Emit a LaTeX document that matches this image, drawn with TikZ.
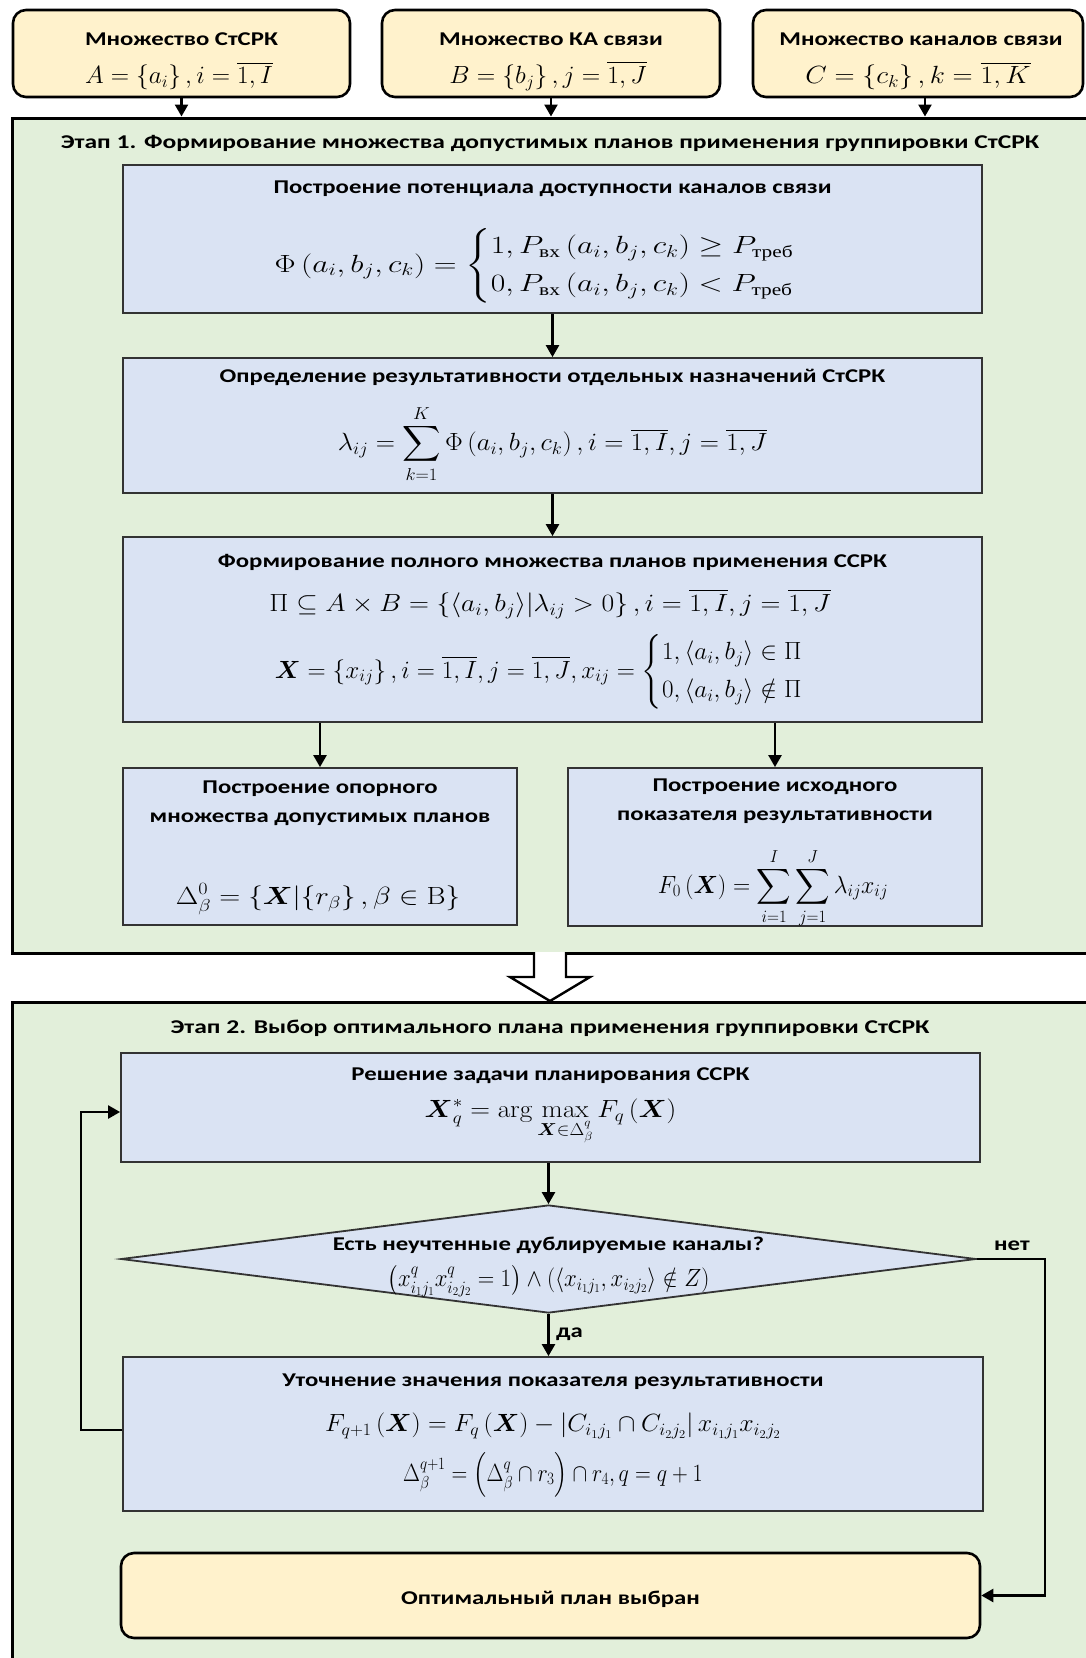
\documentclass[tikz,border=0pt]{standalone}
\usepackage{amsmath}
\usepackage{graphicx}
\usepackage[no-math]{fontspec}
\setmainfont{Carlito}
\newfontfamily\ttlfont{Carlito}[FakeStretch=1.27]
\newfontfamily\stgfont{Carlito}[FakeStretch=1.31]
\newfontfamily\serf{Liberation Serif}
\usetikzlibrary{arrows.meta,shapes.geometric}
\newcommand\cyrsub[1]{\text{\serf\mdseries\upshape #1}}
\newcommand\fm[2]{\scalebox{#1}[1]{$\displaystyle #2$}}
\definecolor{yel}{HTML}{FFF2CC}
\definecolor{grn}{HTML}{E2EFDA}
\definecolor{blu}{HTML}{DAE3F3}
\definecolor{bord}{HTML}{333333}
\begin{document}
\begin{tikzpicture}[x=1pt,y=-1pt,
  ybox/.style={draw=black,line width=2.6pt,fill=yel,rounded corners=13pt,inner sep=0pt},
  stage/.style={draw=black,line width=3pt,fill=grn,inner sep=0pt},
  bbox/.style={draw=bord,line width=1.8pt,fill=blu,inner sep=0pt},
  ttl/.style={font=\ttlfont\bfseries\fontsize{19.5}{23}\selectfont,inner sep=0pt,align=center},
  stl/.style={font=\stgfont\bfseries\fontsize{19.5}{23}\selectfont,inner sep=0pt,align=center},
  fml/.style={font=\fontsize{24}{28}\selectfont,inner sep=0pt},
  arr/.style={line width=2.4pt,-{Triangle[length=12pt,width=13pt]}}]
\fill[white] (0,0) rectangle (1085,1658);
\useasboundingbox (0,0) rectangle (1085,1658);

% top boxes
\node[ybox,minimum width=337pt,minimum height=87pt] (A) at (181.5,53.5) {};
\node[ybox,minimum width=338pt,minimum height=87pt] (B) at (551,53.5) {};
\node[ybox,minimum width=330pt,minimum height=87pt] (C) at (918,53.5) {};
\node[ttl] (At) at (181.5,39) {Множество СтСРК};
\node[fml] (Af) at (179,76) {\fm{1.02}{A=\left\{a_i\right\},i=\overline{1,I}}};
\node[ttl] (Bt) at (551,39) {Множество КА связи};
\node[fml] (Bf) at (548,76) {\fm{1.03}{B=\left\{b_j\right\},j=\overline{1,J}}};
\node[ttl] (Ct) at (921,39) {Множество каналов связи};
\node[fml] (Cf) at (918,76) {\fm{1.12}{C=\left\{c_k\right\},k=\overline{1,K}}};

% stage frames
\node[stage,minimum width=1078pt,minimum height=835pt] (S1) at (551,535.5) {};
\node[stage,minimum width=1078pt,minimum height=663pt] (S2) at (551,1333.5) {};

\draw[arr] (A.south) -- (A.south |- S1.north);
\draw[arr] (B.south) -- (B.south |- S1.north);
\draw[arr] ([xshift=7pt]C.south) -- ([xshift=7pt]C.south |- S1.north);

\node[stl] (S1t) at (550,143) {Этап 1. Формирование множества допустимых планов применения группировки СтСРК};

% stage 1 boxes
\node[bbox,minimum width=859pt,minimum height=148pt] (P1) at (552.5,239) {};
\node[ttl] (P1t) at (552.5,189) {Построение потенциала доступности каналов связи};
\node[fml] (P1f) at (550,266) {\fm{1.27}{\Phi\left(a_i,b_j,c_k\right)=\begin{cases}1,P_{\cyrsub{вх}}\left(a_i,b_j,c_k\right)\ge P_{\cyrsub{треб}}\\[4pt] 0,P_{\cyrsub{вх}}\left(a_i,b_j,c_k\right)<P_{\cyrsub{треб}}\end{cases}}};

\node[bbox,minimum width=859pt,minimum height=135pt] (P2) at (552.5,425.5) {};
\node[ttl] (P2t) at (552.5,377) {Определение результативности отдельных назначений СтСРК};
\node[fml] (P2f) at (552.5,444) {\fm{1.07}{\lambda_{ij}=\sum_{k=1}^{K}\Phi\left(a_i,b_j,c_k\right),i=\overline{1,I},j=\overline{1,J}}};

\node[bbox,minimum width=859pt,minimum height=185pt] (P3) at (552.5,629.5) {};
\node[ttl] (P3t) at (552.5,562) {Формирование полного множества планов применения ССРК};
\node[fml] (P3f) at (550,604) {\fm{1.11}{\Pi\subseteq A\times B=\left\{\left\langle a_i,b_j\right\rangle\middle|\lambda_{ij}>0\right\},i=\overline{1,I},j=\overline{1,J}}};
\node[fml] (P3g) at (551,672) {\fm{1.01}{\boldsymbol{X}=\left\{x_{ij}\right\},i=\overline{1,I},j=\overline{1,J},x_{ij}=\begin{cases}1,\left\langle a_i,b_j\right\rangle\in\Pi\\[4pt] 0,\left\langle a_i,b_j\right\rangle\notin\Pi\end{cases}}};

\node[bbox,minimum width=394pt,minimum height=157pt] (P4) at (320,846.5) {};
\node[ttl] (P4t) at (320,803) {Построение опорного\\[6pt]множества допустимых планов};
\node[fml] (P4f) at (318,899) {\fm{1.17}{\Delta_\beta^0=\left\{\boldsymbol{X}\middle|\left\{r_\beta\right\},\beta\in\mathrm{B}\right\}}};

\node[bbox,minimum width=414pt,minimum height=158pt] (P5) at (775,847) {};
\node[ttl] (P5t) at (775,801) {Построение исходного\\[6pt]показателя результативности};
\node[fml] (P5f) at (773,888) {\fm{0.96}{F_0\left(\boldsymbol{X}\right)=\sum_{i=1}^{I}\sum_{j=1}^{J}\lambda_{ij}x_{ij}}};

\draw[arr] (P1.south) -- (P2.north);
\draw[arr] (P2.south) -- (P3.north);
\draw[arr] (P3.south -| P4.north) -- (P4.north);
\draw[arr] (P3.south -| P5.north) -- (P5.north);

% hollow arrow between stages
\draw[line width=2.4pt,fill=white,line join=miter] (534,952) -- (534,977) -- (510,977) -- (550,1001) -- (590,977) -- (566,977) -- (566,952);

% stage 2
\node[stl] (S2t) at (550,1028) {Этап 2. Выбор оптимального плана применения группировки СтСРК};

\node[bbox,minimum width=859pt,minimum height=109pt] (Q1) at (550.5,1107.5) {};
\node[ttl] (Q1t) at (550.5,1076) {Решение задачи планирования ССРК};
\node[fml] (Q1f) at (550.5,1122) {\fm{1.10}{\boldsymbol{X}_q^{*}=\arg\max_{\boldsymbol{X}\in\Delta_\beta^q}F_q\left(\boldsymbol{X}\right)}};

\node[bbox,diamond,shape aspect=8,minimum width=855pt,minimum height=108pt] (D) at (548.5,1259) {};
\node[ttl] (Dt) at (548.5,1245) {Есть неучтенные дублируемые каналы?};
\node[fml] (Df) at (548.5,1281) {\fm{0.92}{\left(x^q_{i_1j_1}x^q_{i_2j_2}=1\right)\wedge\left(\left\langle x_{i_1j_1},x_{i_2j_2}\right\rangle\notin Z\right)}};

\node[bbox,minimum width=860pt,minimum height=154pt] (Q2) at (553,1434) {};
\node[ttl] (Q2t) at (553,1382) {Уточнение значения показателя результативности};
\node[fml] (Q2f) at (553,1426) {\fm{1.04}{F_{q+1}\left(\boldsymbol{X}\right)=F_q\left(\boldsymbol{X}\right)-\left|C_{i_1j_1}\cap C_{i_2j_2}\right|x_{i_1j_1}x_{i_2j_2}}};
\node[fml] (Q2g) at (553,1475) {\fm{0.88}{\Delta_\beta^{q+1}=\left(\Delta_\beta^q\cap r_3\right)\cap r_4,q=q+1}};

\node[ybox,minimum width=859pt,minimum height=85pt] (E) at (550.5,1595.5) {};
\node[ttl] (Et) at (550.5,1599) {Оптимальный план выбран};

\draw[arr] (Q1.south -| D.north) -- (D.north);
\draw[arr] (D.south) -- (D.south |- Q2.north);
\node[ttl,anchor=west] (da) at (556,1334) {да};

\coordinate (nr) at (1045,1259);
\draw[arr] (D.east) -- (nr) |- (E.east);
\node[ttl] (net) at (1012,1246) {нет};

\coordinate (fl) at (81,1430);
\draw[arr] (Q2.west |- fl) -- (fl) |- ([yshift=-4.5pt]Q1.west);
\end{tikzpicture}
\end{document}
